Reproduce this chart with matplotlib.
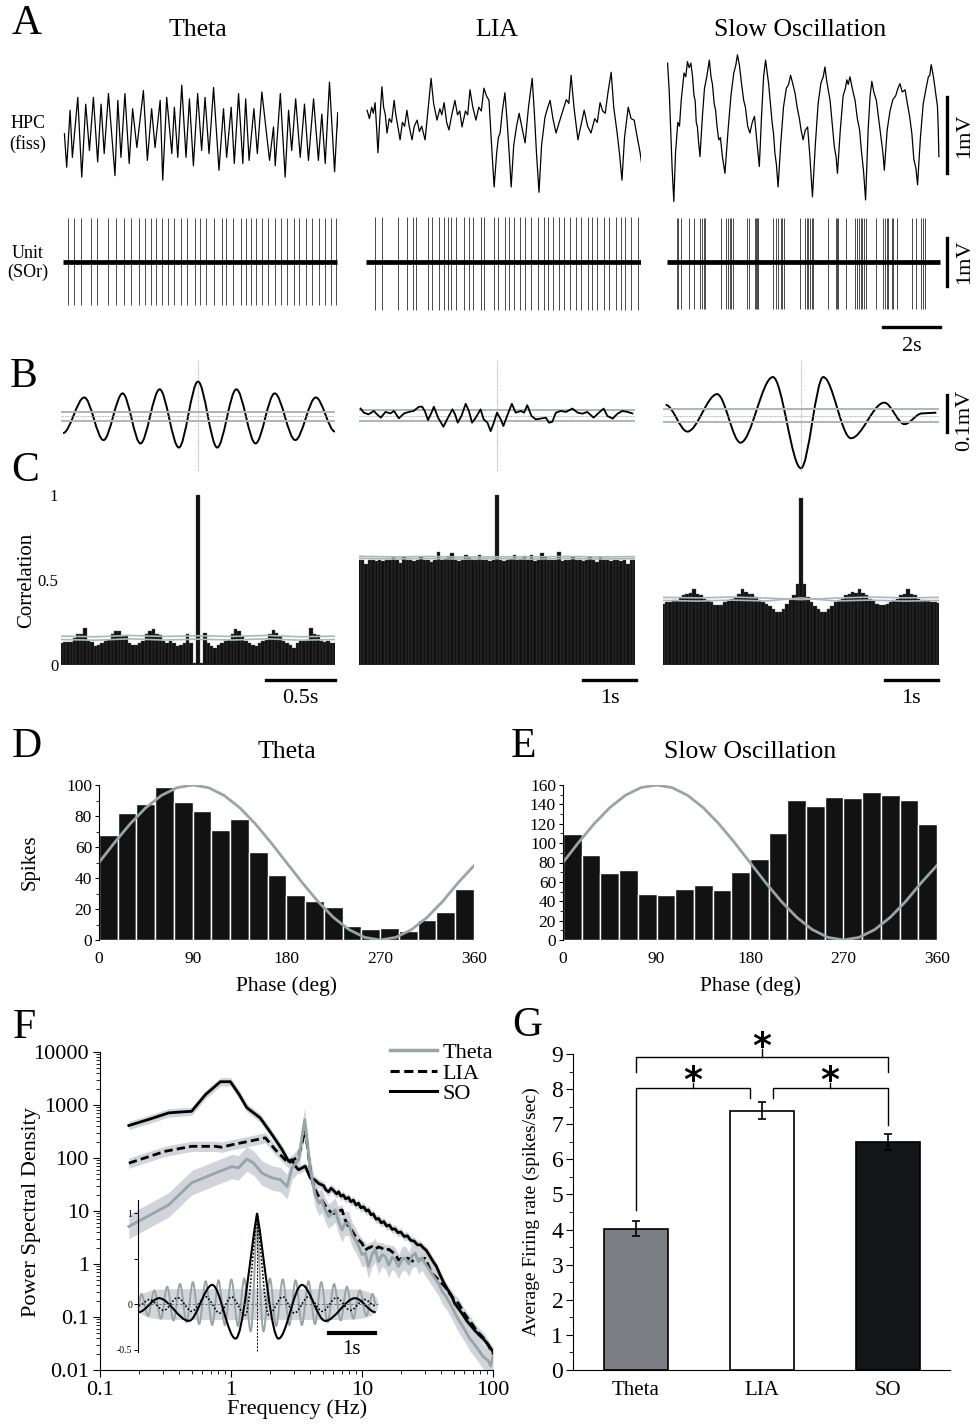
import matplotlib
matplotlib.use('Agg')
import numpy as np
import matplotlib.pyplot as plt
from matplotlib.path import Path
from matplotlib.patches import PathPatch
from matplotlib.lines import Line2D
from matplotlib.ticker import MultipleLocator, FuncFormatter, NullFormatter

plt.rcParams['font.family'] = ['Liberation Serif', 'DejaVu Serif']

W, H = 979, 1427

# ---------------- data ----------------
# A: raw HPC traces (s, mV), vertices
theta_hpc_t = [0.05, 0.13, 0.25, 0.33, 0.52, 0.66, 0.80, 0.93, 1.07, 1.22, 1.34, 1.45, 1.60, 1.83, 1.93,
               2.04, 2.18, 2.33, 2.45, 2.60, 2.83, 2.97, 3.12, 3.24, 3.42, 3.51, 3.65, 3.83, 3.92, 4.04,
               4.18, 4.33, 4.45, 4.59, 4.74, 4.88, 5.00, 5.14, 5.30, 5.49, 5.65, 5.76, 5.92, 6.03, 6.18,
               6.33, 6.43, 6.55, 6.72, 6.84, 7.00, 7.27, 7.41, 7.47, 7.65, 7.82, 7.94, 8.05, 8.19, 8.35,
               8.50, 8.64, 8.82, 8.99, 9.11, 9.23, 9.38, 9.56, 9.67, 9.70]
theta_hpc_v = [-0.05, -0.49, 0.26, -0.36, 0.43, -0.62, 0.34, -0.27, 0.43, -0.42, 0.34, -0.31, 0.48, -0.60, 0.39,
               -0.36, 0.48, -0.44, 0.28, -0.23, 0.52, -0.40, 0.28, -0.23, 0.39, -0.66, 0.43, -0.31, 0.30, -0.36,
               0.59, -0.36, 0.41, -0.47, 0.48, -0.27, 0.43, -0.31, 0.56, -0.53, 0.28, -0.36, 0.30, -0.44, 0.48,
               -0.44, 0.41, -0.40, 0.28, -0.31, 0.50, -0.40, 0.04, -0.47, 0.48, -0.62, 0.26, -0.27, 0.41, -0.36,
               0.34, -0.40, 0.41, -0.40, 0.21, -0.44, 0.63, -0.55, 0.23, 0.0]
lia_hpc_t = [0.04, 0.12, 0.20, 0.26, 0.32, 0.37, 0.42, 0.48, 0.56, 0.62, 0.68, 0.74, 0.82, 0.90, 0.99,
             1.05, 1.12, 1.20, 1.28, 1.36, 1.44, 1.52, 1.62, 1.70, 1.80, 1.88, 1.96, 2.08, 2.18, 2.29,
             2.38, 2.50, 2.60, 2.67, 2.75, 2.84, 2.92, 3.02, 3.13, 3.22, 3.30, 3.38, 3.50, 3.58, 3.66,
             3.76, 3.87, 3.97, 4.06, 4.15, 4.24, 4.33, 4.42, 4.51, 4.60, 4.66, 4.72, 4.80, 4.89, 4.97,
             5.04, 5.11, 5.20, 5.30, 5.39, 5.48, 5.60, 5.72, 5.85, 5.93, 6.00, 6.09, 6.18, 6.30, 6.40,
             6.48, 6.58, 6.69, 6.80, 6.90, 7.05, 7.14, 7.22, 7.32, 7.46, 7.56, 7.68, 7.80, 7.92, 8.05,
             8.14, 8.24, 8.33, 8.42, 8.52, 8.63, 8.72, 8.84, 8.92, 9.01, 9.10, 9.23, 9.33, 9.44, 9.55,
             9.65, 9.72]
lia_hpc_v = [0.26, 0.15, 0.30, 0.22, 0.36, 0.05, -0.30, 0.10, 0.57, 0.30, 0.20, -0.04, 0.15, 0.10, 0.39,
             0.20, 0.05, -0.13, 0.10, 0.05, 0.26, 0.05, -0.13, 0.05, 0.13, -0.02, 0.05, -0.13, 0.25, 0.68,
             0.35, 0.13, 0.28, 0.20, 0.36, 0.10, 0.0, 0.20, 0.39, 0.20, 0.25, 0.04, 0.25, 0.20, 0.53,
             0.30, 0.13, 0.30, 0.25, 0.55, 0.45, 0.39, -0.20, -0.75, -0.30, -0.10, -0.04, 0.25, 0.49, 0.10,
             -0.30, -0.75, -0.20, 0.05, 0.22, 0.05, -0.17, 0.30, 0.68, 0.20, -0.30, -0.82, -0.20, 0.17, 0.30,
             0.39, 0.15, -0.04, 0.10, 0.22, 0.40, 0.35, 0.72, 0.30, -0.13, 0.05, 0.26, 0.05, -0.04, 0.15,
             0.10, 0.36, 0.25, 0.22, 0.50, 0.76, 0.30, -0.04, -0.30, -0.66, -0.10, 0.30, 0.15, 0.13, -0.10,
             -0.30, -0.49]
so_hpc_t = [0.02, 0.08, 0.12, 0.18, 0.24, 0.30, 0.38, 0.44, 0.50, 0.60, 0.66, 0.72, 0.78, 0.84, 0.90,
            0.95, 0.99, 1.03, 1.07, 1.11, 1.16, 1.25, 1.32, 1.40, 1.49, 1.55, 1.60, 1.66, 1.71, 1.76,
            1.82, 1.88, 1.95, 2.04, 2.15, 2.25, 2.35, 2.42, 2.48, 2.55, 2.62, 2.70, 2.76, 2.84, 2.92,
            3.00, 3.08, 3.15, 3.25, 3.33, 3.40, 3.47, 3.53, 3.58, 3.63, 3.70, 3.75, 3.80, 3.85, 3.91,
            4.00, 4.10, 4.20, 4.28, 4.35, 4.42, 4.51, 4.58, 4.66, 4.72, 4.79, 4.87, 4.95, 5.03, 5.12,
            5.22, 5.32, 5.42, 5.50, 5.56, 5.62, 5.68, 5.74, 5.80, 5.89, 5.95, 6.00, 6.10, 6.20, 6.28,
            6.33, 6.38, 6.44, 6.52, 6.62, 6.70, 6.78, 6.84, 6.92, 6.99, 7.08, 7.15, 7.21, 7.28, 7.37,
            7.45, 7.54, 7.60, 7.65, 7.75, 7.85, 7.95, 8.05, 8.13, 8.20, 8.28, 8.38, 8.46, 8.54, 8.62,
            8.69, 8.76, 8.82, 8.92, 9.02, 9.12, 9.20, 9.25, 9.30, 9.38, 9.45, 9.52, 9.55, 9.57]
so_hpc_v = [0.88, 0.50, 0.10, -0.50, -0.94, -0.30, 0.10, 0.05, 0.39, 0.75, 0.70, 0.90, 0.82, 0.88, 0.70,
            0.45, 0.39, 0.10, 0.04, -0.15, -0.35, 0.20, 0.55, 0.70, 0.92, 0.70, 0.60, 0.35, 0.26, 0.05,
            -0.13, -0.10, -0.35, -0.57, 0.0, 0.45, 0.75, 0.85, 0.99, 0.85, 0.62, 0.39, 0.30, 0.05, -0.04,
            0.10, 0.18, -0.10, -0.48, 0.20, 0.70, 0.92, 0.75, 0.60, 0.39, 0.10, -0.05, -0.31, -0.45, -0.75,
            -0.20, 0.30, 0.55, 0.60, 0.72, 0.62, 0.48, 0.30, 0.15, 0.0, -0.13, 0.0, 0.04, -0.35, -0.88,
            -0.20, 0.35, 0.62, 0.70, 0.83, 0.65, 0.52, 0.39, 0.15, -0.22, -0.35, -0.57, 0.0, 0.45, 0.55,
            0.66, 0.60, 0.70, 0.55, 0.39, 0.15, 0.0, -0.26, -0.55, -0.92, 0.0, 0.45, 0.64, 0.50, 0.39,
            0.15, -0.13, -0.30, -0.53, 0.0, 0.25, 0.40, 0.45, 0.55, 0.61, 0.50, 0.53, 0.35, 0.18, -0.05,
            -0.39, -0.50, -0.72, -0.10, 0.35, 0.55, 0.70, 0.72, 0.86, 0.70, 0.50, 0.31, 0.0, -0.35]

# A: unit spike times (s)
theta_spikes = [0.16, 0.38, 0.64, 0.97, 1.19, 1.57, 1.85, 2.14, 2.40, 2.67, 2.89, 3.11, 3.29, 3.47, 3.68,
                3.90, 4.17, 4.38, 4.65, 4.82, 5.05, 5.31, 5.59, 5.75, 5.97, 6.25, 6.43, 6.63, 6.81, 7.02,
                7.20, 7.46, 7.68, 7.90, 8.12, 8.30, 8.56, 8.78, 9.00, 9.22, 9.44, 9.62]
lia_spikes = [0.32, 0.58, 1.13, 1.46, 1.64, 1.75, 2.19, 2.34, 2.57, 2.74, 2.87, 3.00, 3.17, 3.44, 3.62,
              3.77, 4.05, 4.16, 4.50, 4.65, 4.89, 5.04, 5.20, 5.42, 5.60, 5.80, 6.04, 6.26, 6.41, 6.58,
              6.80, 6.97, 7.18, 7.40, 7.57, 7.80, 7.96, 8.13, 8.38, 8.56, 8.79, 8.97, 9.12, 9.33, 9.56]
so_spikes = [0.34, 0.40, 0.49, 0.77, 0.96, 1.16, 1.22, 1.31, 1.34, 1.90, 2.08, 2.16, 2.21, 2.25, 2.34,
             2.81, 2.89, 3.10, 3.13, 3.16, 3.19, 3.22, 3.74, 3.83, 3.92, 4.01, 4.06, 4.12, 4.68, 4.86,
             4.92, 4.98, 5.04, 5.09, 5.15, 5.68, 5.94, 5.99, 6.03, 6.29, 6.62, 6.68, 6.76, 6.83, 6.88,
             6.95, 7.00, 7.35, 7.62, 7.68, 7.74, 7.79, 7.91, 7.97, 8.09, 8.64, 8.76, 8.94, 9.02, 9.08]
unit_duration = [9.65, 9.68, 9.62]
spike_up = [0.96, 0.98, 0.96]
spike_down = [-0.93, -1.04, -1.02]

# B: spike-triggered LFP averages (s, mV)
theta_sta_t = [-0.985, -0.83, -0.69, -0.55, -0.42, -0.28, -0.14, 0.0, 0.14, 0.28, 0.42, 0.56, 0.71, 0.86, 1.0]
theta_sta_v = [-0.046, 0.050, -0.065, 0.061, -0.074, 0.072, -0.085, 0.093, -0.085, 0.072, -0.074, 0.061,
               -0.065, 0.050, -0.042]
lia_sta_t = [-2.57, -2.51, -2.42, -2.32, -2.26, -2.19, -2.10, -2.01, -1.94, -1.85, -1.75, -1.66, -1.57,
             -1.47, -1.41, -1.36, -1.30, -1.24, -1.19, -1.11, -1.01, -0.94, -0.84, -0.79, -0.74, -0.67,
             -0.59, -0.53, -0.47, -0.40, -0.31, -0.25, -0.18, -0.12, -0.06, 0.0, 0.07, 0.12, 0.19, 0.28,
             0.35, 0.45, 0.51, 0.57, 0.65, 0.73, 0.82, 0.92, 0.98, 1.04, 1.11, 1.20, 1.30, 1.42, 1.52,
             1.61, 1.70, 1.82, 1.92, 2.01, 2.08, 2.18, 2.27, 2.36, 2.46, 2.55]
lia_sta_v = [0.020, 0.009, 0.0045, 0.0135, 0.0045, -0.0045, 0.011, 0.007, 0.0135, -0.0063, 0.007, 0.011,
             0.0135, 0.025, 0.025, 0.0135, -0.011, 0.007, 0.025, -0.0045, -0.029, -0.009, 0.018, 0.0045,
             -0.018, 0.0, 0.033, 0.0135, -0.018, -0.0045, 0.018, -0.009, -0.018, -0.041, -0.018, 0.009,
             -0.009, -0.027, 0.0, 0.033, 0.009, 0.0135, 0.009, 0.029, 0.0, -0.009, -0.007, -0.0045,
             -0.018, -0.016, 0.009, 0.0135, 0.011, 0.020, 0.009, 0.0063, 0.011, -0.0045, 0.009, 0.020,
             0.0, -0.007, 0.0063, 0.0135, 0.011, 0.007]
so_sta_t = [-2.55, -2.14, -1.58, -1.14, -0.53, 0.0, 0.42, 0.94, 1.57, 1.95, 2.28, 2.55]
so_sta_v = [0.030, -0.042, 0.059, -0.072, 0.105, -0.141, 0.105, -0.060, 0.036, -0.022, 0.007, 0.009]
sta_bounds = [(0.0116, -0.0127), (0.016, -0.013), (0.018, -0.017)]

# C: cross-correlograms (81 bins each)
theta_ccg_t = np.linspace(-1.0, 1.0, 81)
theta_ccg = [0.13, 0.135, 0.135, 0.135, 0.16, 0.18, 0.18, 0.22, 0.14, 0.135,
             0.11, 0.12, 0.13, 0.14, 0.15, 0.18, 0.20, 0.20, 0.17, 0.175,
             0.13, 0.12, 0.12, 0.13, 0.14, 0.18, 0.20, 0.21, 0.18, 0.175,
             0.14, 0.13, 0.14, 0.13, 0.11, 0.12, 0.13, 0.18, 0.13, 0.01,
             1.0,
             0.01, 0.19, 0.13, 0.11, 0.10, 0.12, 0.13, 0.14, 0.15, 0.18,
             0.21, 0.20, 0.17, 0.14, 0.13, 0.12, 0.11, 0.13, 0.14, 0.15,
             0.18, 0.205, 0.19, 0.17, 0.14, 0.13, 0.12, 0.10, 0.13, 0.14,
             0.14, 0.15, 0.22, 0.18, 0.175, 0.14, 0.135, 0.14, 0.13, 0.13]
lia_ccg_t = np.linspace(-2.6, 2.6, 81)
lia_ccg = [0.62, 0.62, 0.595, 0.62, 0.62, 0.615, 0.62, 0.61, 0.62, 0.62,
           0.635, 0.62, 0.60, 0.635, 0.62, 0.62, 0.615, 0.62, 0.635, 0.62,
           0.62, 0.605, 0.62, 0.665, 0.62, 0.625, 0.64, 0.66, 0.62, 0.61,
           0.62, 0.65, 0.635, 0.62, 0.62, 0.65, 0.62, 0.62, 0.61, 0.62,
           1.0,
           0.62, 0.61, 0.62, 0.625, 0.65, 0.62, 0.625, 0.64, 0.62, 0.65,
           0.61, 0.62, 0.66, 0.635, 0.62, 0.62, 0.62, 0.665, 0.61, 0.62,
           0.62, 0.635, 0.62, 0.62, 0.615, 0.62, 0.635, 0.62, 0.605, 0.635,
           0.62, 0.62, 0.61, 0.62, 0.62, 0.615, 0.62, 0.595, 0.62, 0.62]
so_ccg_t = np.linspace(-2.6, 2.6, 81)
so_ccg = [0.36, 0.37, 0.37, 0.38, 0.38, 0.40, 0.41, 0.42, 0.425, 0.445,
          0.42, 0.41, 0.39, 0.38, 0.37, 0.355, 0.355, 0.355, 0.37, 0.38,
          0.39, 0.40, 0.42, 0.445, 0.43, 0.42, 0.42, 0.40, 0.38, 0.37,
          0.36, 0.345, 0.33, 0.31, 0.31, 0.33, 0.36, 0.38, 0.41, 0.475,
          0.985,
          0.475, 0.40, 0.37, 0.35, 0.33, 0.31, 0.31, 0.33, 0.35, 0.37,
          0.38, 0.39, 0.41, 0.42, 0.43, 0.425, 0.445, 0.425, 0.41, 0.39,
          0.375, 0.36, 0.355, 0.355, 0.36, 0.37, 0.38, 0.39, 0.41, 0.42,
          0.445, 0.42, 0.41, 0.39, 0.38, 0.38, 0.375, 0.37, 0.37, 0.365]
ci_theta_t = [-1.0, -0.75, -0.5, -0.25, 0.0, 0.25, 0.5, 0.75, 1.0]
ci_theta_lo = [0.150, 0.146, 0.154, 0.147, 0.152, 0.147, 0.154, 0.146, 0.150]
ci_theta_hi = [0.170, 0.166, 0.174, 0.168, 0.172, 0.168, 0.174, 0.166, 0.170]
ci_wide_t = [-2.6, -1.95, -1.3, -0.65, 0.0, 0.65, 1.3, 1.95, 2.6]
ci_lia_lo = [0.628, 0.624, 0.627, 0.623, 0.626, 0.623, 0.627, 0.624, 0.626]
ci_lia_hi = [0.640, 0.636, 0.639, 0.635, 0.637, 0.636, 0.639, 0.636, 0.638]
ci_so_lo = [0.380, 0.376, 0.382, 0.377, 0.395, 0.377, 0.382, 0.376, 0.380]
ci_so_hi = [0.398, 0.395, 0.400, 0.394, 0.385, 0.394, 0.400, 0.395, 0.398]

# D/E: phase histograms
phase_bins = [9, 27, 45, 63, 81, 99, 117, 135, 153, 171, 189, 207, 225, 243, 261, 279, 297, 315, 333, 351]
theta_phase = [68, 82, 88, 99, 89, 83, 71, 78, 57, 42, 29, 25, 21, 9, 7, 8, 6, 13, 18, 33]
so_phase = [109, 88, 69, 72, 48, 46, 53, 57, 52, 70, 84, 110, 145, 138, 148, 147, 153, 150, 145, 120]
ref_phase = [0, 15, 30, 45, 60, 75, 90, 105, 120, 135, 150, 165, 180, 195, 210, 225, 240, 255, 270,
             285, 300, 315, 330, 345, 360]
theta_ref = [50, 62.9, 75, 85.4, 93.3, 98.3, 100, 98.3, 93.3, 85.4, 75, 62.9, 50, 37.1, 25, 14.6, 6.7,
             1.7, 0, 1.7, 6.7, 14.6, 25, 37.1, 48]
so_ref = [80, 100.7, 120, 136.6, 149.3, 157.3, 160, 157.3, 149.3, 136.6, 120, 100.7, 80, 59.3, 40, 23.4,
          10.7, 2.7, 0, 2.7, 10.7, 23.4, 40, 59.3, 77]

# F: power spectra (Hz, PSD)
so_psd_f = [0.166, 0.25, 0.334, 0.42, 0.50, 0.64, 0.83, 0.99, 1.15, 1.32, 1.5, 1.67, 2.06, 2.45, 2.75,
            2.92, 3.1, 3.28, 3.69, 4.03, 4.4, 4.67, 5.1, 5.3, 5.56, 5.8, 6.1, 6.4, 6.63, 6.9, 7.2, 7.5,
            7.9, 8.2, 8.6, 9.0, 9.41, 9.8, 10.3, 10.8, 11.2, 11.7, 12.2, 12.8, 13.4, 14.0, 14.7, 15.4,
            16.2, 17.0, 17.9, 18.8, 19.8, 21.0, 22.2, 23.5, 25.0, 26.5, 28.0, 29.5, 31.0, 33.0, 35.0,
            37.0, 39.5, 42.0, 45.0, 48.0, 51.0, 55.0, 59.0, 63.0, 68.0, 73.0, 79.0, 85.0, 92.0, 100.0]
so_psd = [410, 560, 710, 740, 760, 1580, 2750, 2750, 1600, 890, 700, 570, 275, 145, 87,
          93, 70, 60, 70, 42, 38, 33, 30, 25, 23, 27, 24, 21, 23, 19, 20, 17,
          18, 15, 16, 13, 14, 11.5, 12, 10, 10.5, 8.5, 8.8, 7.0, 7.2, 6.0, 6.3, 5.2,
          5.4, 4.5, 4.6, 3.9, 4.0, 3.3, 3.4, 2.8, 2.7, 2.3, 2.3, 2.0, 1.8, 1.4, 1.1,
          0.9, 0.62, 0.45, 0.33, 0.26, 0.18, 0.14, 0.11, 0.085, 0.068, 0.055, 0.045, 0.038, 0.03, 0.022]
lia_psd_f = [0.166, 0.315, 0.50, 0.76, 0.85, 1.02, 1.36, 1.83, 2.18, 2.75, 3.28, 3.69, 4.03, 4.27, 4.6,
             4.95, 5.3, 5.56, 5.9, 6.25, 6.6, 7.04, 7.4, 7.9, 8.4, 8.9, 9.5, 10.0, 10.6, 11.2, 11.9,
             12.6, 13.4, 14.2, 15.0, 16.0, 16.9, 18.0, 19.0, 20.5, 22.6, 24.0, 25.5, 27.5, 30.3, 32.0,
             34.1, 37.0, 40.0, 43.1, 47.0, 50.0, 54.5, 60.0, 65.0, 68.9, 75.0, 81.0, 87.0, 93.0, 100.0]
lia_psd = [80, 134, 166, 166, 160, 178, 206, 240, 143, 80, 107, 345, 60, 29, 20,
           16, 12, 10.5, 9, 9.1, 10, 10.5, 7, 5.1, 4.2, 3.3, 2.8, 2.46, 1.84, 2.0, 2.13,
           1.9, 2.1, 1.98, 1.8, 1.9, 1.71, 1.5, 1.19, 1.3, 1.28, 1.15, 1.1, 1.2, 1.28, 0.95,
           0.67, 0.55, 0.45, 0.37, 0.27, 0.22, 0.18, 0.12, 0.09, 0.075, 0.055, 0.045, 0.037, 0.028, 0.02]
theta_psd_f = [0.166, 0.334, 0.50, 0.76, 1.02, 1.14, 1.32, 1.49, 1.72, 2.06, 2.38, 2.68, 2.92, 3.28, 3.65,
               4.03, 4.4, 4.7, 4.95, 5.2, 5.56, 5.9, 6.25, 6.6, 7.04, 7.4, 7.9, 8.4, 8.9, 9.4, 10.0,
               10.6, 11.2, 11.9, 12.6, 13.4, 14.2, 15.1, 16.0, 17.0, 17.9, 19.0, 20.2, 21.4, 22.8, 24.0,
               25.5, 27.0, 28.7, 30.3, 32.5, 35.0, 38.4, 41.0, 44.0, 48.5, 52.0, 56.0, 61.3, 66.0, 71.0,
               77.5, 84.0, 92.0, 96.0, 100.0]
theta_psd = [5.1, 13, 34, 52, 69, 65, 96, 80, 52, 42, 39, 29, 65, 93, 530,
             60, 20, 14, 16, 11, 7.9, 9, 10.5, 6.5, 4.4, 5.8, 5.9, 3.6, 2.85, 2.2, 1.5,
             1.6, 0.9, 1.5, 1.84, 1.1, 1.5, 1.38, 0.95, 1.35, 1.19, 0.9, 1.25, 1.28, 1.0, 1.4,
             1.6, 1.1, 1.3, 1.03, 0.8, 0.6, 0.43, 0.3, 0.24, 0.155, 0.11, 0.08, 0.056, 0.04, 0.032,
             0.024, 0.018, 0.015, 0.012, 0.018]
psd_spread = {'theta': 1.7, 'lia': 1.25, 'so': 1.2}

# F inset: autocorrelations (s, r)
theta_acf_t = [-2.54, -2.475, -2.34, -2.2, -2.06, -1.925, -1.79, -1.65, -1.51, -1.375, -1.24, -1.10, -0.96,
               -0.825, -0.69, -0.55, -0.41, -0.275, -0.137, 0.0, 0.137, 0.275, 0.41, 0.55, 0.69, 0.825,
               0.96, 1.10, 1.24, 1.375, 1.51, 1.65, 1.79, 1.925, 2.06, 2.2, 2.34, 2.475, 2.54]
theta_acf_v = [0.0, 0.11, -0.13, 0.15, -0.16, 0.19, -0.18, 0.22, -0.20, 0.24, -0.22, 0.25, -0.23,
               0.26, -0.23, 0.27, -0.24, 0.28, -0.30, 1.0, -0.30, 0.28, -0.24, 0.27, -0.23, 0.26,
               -0.23, 0.25, -0.22, 0.24, -0.20, 0.22, -0.18, 0.19, -0.16, 0.15, -0.13, 0.11, 0.0]
lia_acf_t = [-2.54, -2.3, -2.0, -1.7, -1.4, -1.1, -0.8, -0.55, -0.25, 0.0, 0.25, 0.55, 0.8, 1.1, 1.4,
             1.7, 2.0, 2.3, 2.54]
lia_acf_v = [-0.02, 0.05, -0.07, 0.07, -0.08, 0.08, -0.1, 0.08, -0.12, 1.0, -0.12, 0.08, -0.1, 0.08,
             -0.08, 0.07, -0.07, 0.05, -0.02]
so_acf_t = [-2.54, -2.1, -1.46, -0.96, -0.46, 0.0, 0.46, 0.96, 1.46, 2.1, 2.54]
so_acf_v = [-0.09, 0.064, -0.185, 0.21, -0.38, 1.0, -0.38, 0.21, -0.185, 0.064, -0.09]
acf_band_t = [-2.6, -2.55, -2.45, -2.3, -2.1, -1.8, 1.8, 2.1, 2.3, 2.45, 2.55, 2.6]
acf_band_h = [0.0, 0.08, 0.12, 0.15, 0.165, 0.17, 0.17, 0.165, 0.15, 0.12, 0.08, 0.0]

# G: firing rates
rate_names = ['Theta', 'LIA', 'SO']
rate_mean = [4.03, 7.38, 6.50]
rate_sem = [0.21, 0.24, 0.23]

GRAY = '#97a5a5'
CI = '#a9b8b8'
BAND = '#c9cdd5'
BAR = '#121212'

fig = plt.figure(figsize=(W / 100, H / 100), dpi=100)


def add_ax(l, t, r, b):
    ax = fig.add_axes([l / W, 1 - b / H, (r - l) / W, (b - t) / H])
    ax.patch.set_alpha(0)
    return ax


def ftext(x, y, s, **kw):
    kw.setdefault('ha', 'center')
    kw.setdefault('va', 'center')
    fig.text(x / W, 1 - y / H, s, **kw)


def smooth_curve(ts, vs, cusps=()):
    """Bezier path through extrema (flat tangents), straight tangents at cusps."""
    verts = [(ts[0], vs[0])]
    codes = [Path.MOVETO]
    for i in range(len(ts) - 1):
        t0, v0, t1, v1 = ts[i], vs[i], ts[i + 1], vs[i + 1]
        d = (t1 - t0) / 3.0
        s = (v1 - v0) / (t1 - t0)
        m0 = s if i in cusps else 0.0
        m1 = s if (i + 1) in cusps else 0.0
        verts += [(t0 + d, v0 + m0 * d), (t1 - d, v1 - m1 * d), (t1, v1)]
        codes += [Path.CURVE4] * 3
    return Path(verts, codes)


# ---------------- panel A ----------------
hpc = [(theta_hpc_t, theta_hpc_v), (lia_hpc_t, lia_hpc_v), (so_hpc_t, so_hpc_v)]
spikes = [theta_spikes, lia_spikes, so_spikes]
for k, left in enumerate([63, 366, 667]):
    ax = add_ax(left, 50, left + 275, 210)
    ax.plot(hpc[k][0], hpc[k][1], color='k', lw=0.9)
    ax.set_xlim(0, 9.68)
    ax.set_ylim(-1.053, 1.053)
    ax.axis('off')
    axu = add_ax(left, 210, left + 275, 315)
    axu.vlines(spikes[k], spike_down[k], spike_up[k], color='#4a4a4a', lw=0.7)
    axu.plot([0, unit_duration[k]], [0, 0], color='k', lw=3.4, solid_capstyle='butt')
    axu.set_xlim(0, 9.68)
    axu.set_ylim(-1.152, 1.13)
    axu.axis('off')
    if k == 2:
        ax.plot([9.86, 9.86], [0.434, -0.566], color='k', lw=2.4, clip_on=False)
        ax.text(10.49, -0.07, '1mV', rotation=90, fontsize=16, ha='center', va='center')
        axu.plot([9.86, 9.86], [0.52, -0.52], color='k', lw=2.4, clip_on=False)
        axu.text(10.49, 0.0, '1mV', rotation=90, fontsize=16, ha='center', va='center')
        axu.plot([7.6, 9.6], [-1.41, -1.41], color='k', lw=2.4, clip_on=False)
        axu.text(8.63, -1.83, '2s', fontsize=16, ha='center', va='center')

ftext(27, 24, 'A', fontsize=30)
ftext(198, 30, 'Theta', fontsize=18.5)
ftext(497, 30, 'LIA', fontsize=18.5)
ftext(800, 30, 'Slow Oscillation', fontsize=18.5)
ftext(28, 134, 'HPC\n(fiss)', fontsize=13, linespacing=1.15)
ftext(28, 263, 'Unit\n(SOr)', fontsize=13, linespacing=1.15)

# ---------------- panel B ----------------
b_axes = [((61, 335), 1.0), ((359, 635), 2.6), ((663, 939), 2.6)]
for k, ((l, r), half) in enumerate(b_axes):
    ax = add_ax(l, 360, r, 472)
    ax.set_xlim(-half, half)
    ax.set_ylim(-0.151, 0.151)
    ax.axis('off')
    ax.axvline(0, color='#9a9a9a', lw=0.6, ls=(0, (1, 1)))
    ax.axhline(0, color='#9a9a9a', lw=0.6, ls=(0, (1, 1)))
    for lvl in sta_bounds[k]:
        ax.axhline(lvl, color=CI, lw=1.4)
    if k == 0:
        ax.add_patch(PathPatch(smooth_curve(theta_sta_t, theta_sta_v), fill=False, color='k', lw=1.4))
    elif k == 1:
        ax.plot(lia_sta_t, lia_sta_v, color='k', lw=1.3)
    else:
        ax.add_patch(PathPatch(smooth_curve(so_sta_t, so_sta_v), fill=False, color='k', lw=1.4))
        ax.plot([2.75, 2.75], [0.057, -0.043], color='k', lw=2.4, clip_on=False)
        ax.text(3.09, -0.011, '0.1mV', rotation=90, fontsize=16, ha='center', va='center')
ftext(24, 377, 'B', fontsize=30)

# ---------------- panel C ----------------
c_data = [(theta_ccg_t, theta_ccg, ci_theta_t, ci_theta_lo, ci_theta_hi, (61, 335), 1.0, (0.5, 1.0), '0.5s'),
          (lia_ccg_t, lia_ccg, ci_wide_t, ci_lia_lo, ci_lia_hi, (359, 635), 2.6, (1.62, 2.62), '1s'),
          (so_ccg_t, so_ccg, ci_wide_t, ci_so_lo, ci_so_hi, (663, 939), 2.6, (1.58, 2.58), '1s')]
for k, (ct, cv, cit, clo, chi, (l, r), half, sb, sbl) in enumerate(c_data):
    ax = add_ax(l, 490, r, 665)
    ax.bar(ct, cv, width=ct[1] - ct[0], color=BAR, edgecolor='#4d4d4d', linewidth=0.25)
    ax.plot(cit, clo, color=CI, lw=1.2)
    ax.plot(cit, chi, color=CI, lw=1.2)
    ax.set_xlim(-half, half)
    ax.set_ylim(0, 1.03)
    for s in ax.spines.values():
        s.set_visible(False)
    ax.set_xticks([])
    if k == 0:
        ax.set_yticks([0, 0.5, 1])
        ax.set_yticklabels(['0', '0.5', '1'])
        ax.tick_params(axis='y', length=0, pad=2, labelsize=12)
    else:
        ax.set_yticks([])
    ax.plot(list(sb), [-0.088, -0.088], color='k', lw=2.4, clip_on=False)
    ax.text((sb[0] + sb[1]) / 2, -0.2, sbl, fontsize=16, ha='center', va='center')
ftext(25, 471, 'C', fontsize=30)
ftext(27, 580, 'Correlation', fontsize=15, rotation=90)

# ---------------- panels D, E ----------------
de = [((99, 474), theta_phase, theta_ref, 100, 20, 'Theta', 287, 'D', 27),
      ((563, 937), so_phase, so_ref, 160, 20, 'Slow Oscillation', 750, 'E', 523)]
for (l, r), counts, ref, ymax, step, title, cx, letter, lx in de:
    ax = add_ax(l, 785, r, 940)
    ax.bar(phase_bins, counts, width=18, color=BAR, edgecolor='white', linewidth=1.0)
    ax.plot(ref_phase, ref, color=GRAY, lw=2.0)
    ax.set_xlim(0, 360)
    ax.set_ylim(0, ymax)
    ax.set_xticks([0, 90, 180, 270, 360])
    ax.yaxis.set_major_locator(MultipleLocator(step))
    ax.yaxis.set_minor_locator(MultipleLocator(step / 2))
    ax.tick_params(axis='x', length=0, pad=8, labelsize=12.5)
    ax.tick_params(axis='y', which='major', direction='out', length=3, pad=2, labelsize=12.5)
    ax.tick_params(axis='y', which='minor', direction='out', length=2)
    for s in ['top', 'right', 'bottom']:
        ax.spines[s].set_visible(False)
    ftext(cx, 752, title, fontsize=18.5)
    ftext(cx, 986, 'Phase (deg)', fontsize=15.5)
    ftext(lx, 747, letter, fontsize=30)
ftext(30, 862, 'Spikes', fontsize=15, rotation=90)

# ---------------- panel F ----------------
ax = add_ax(100, 1052, 493, 1370)
series = [(theta_psd_f, theta_psd, psd_spread['theta']),
          (lia_psd_f, lia_psd, psd_spread['lia']),
          (so_psd_f, so_psd, psd_spread['so'])]
for f, v, spread in series:
    v = np.array(v)
    ax.fill_between(f, v / spread, v * spread, color=BAND, lw=0, alpha=0.85)
ax.plot(so_psd_f, so_psd, color='k', lw=2.0)
ax.plot(lia_psd_f, lia_psd, color='k', lw=2.0, dashes=(3, 1.5))
ax.plot(theta_psd_f, theta_psd, color=GRAY, lw=2.0)
ax.set_xscale('log')
ax.set_yscale('log')
ax.set_xlim(0.1, 100)
ax.set_ylim(0.01, 10000)
fmt = FuncFormatter(lambda v, p: f'{v:g}')
ax.xaxis.set_major_formatter(fmt)
ax.yaxis.set_major_formatter(fmt)
ax.xaxis.set_minor_formatter(NullFormatter())
ax.yaxis.set_minor_formatter(NullFormatter())
ax.tick_params(which='major', direction='out', length=5, labelsize=16, pad=3)
ax.tick_params(which='minor', direction='out', length=3)
for s in ['top', 'right']:
    ax.spines[s].set_visible(False)
handles = [Line2D([], [], color=GRAY, lw=2.5),
           Line2D([], [], color='k', lw=2.2, dashes=(3, 1.5)),
           Line2D([], [], color='k', lw=2.2)]
ax.legend(handles, ['Theta', 'LIA', 'SO'], loc='upper right', bbox_to_anchor=(1.0, 1.03),
          frameon=False, fontsize=16, handlelength=2.1, handletextpad=0.25,
          labelspacing=0.0, borderaxespad=0, borderpad=0)
ftext(24, 1028, 'F', fontsize=30)
ftext(32, 1212, 'Power Spectral Density', fontsize=16, rotation=90)
ftext(297, 1409, 'Frequency (Hz)', fontsize=16)

# inset
axi = add_ax(138, 1200, 378, 1352)
bh = np.array(acf_band_h)
axi.fill_between(acf_band_t, -bh, bh, color='#d2d6db', lw=0)
axi.axhline(0, color='#666666', lw=0.6, ls=(0, (3, 2)))
axi.vlines(0, -0.52, 1.0, color='k', lw=0.7, linestyles=(0, (2, 1.5)))
axi.add_patch(PathPatch(smooth_curve(theta_acf_t, theta_acf_v, cusps=(19,)), fill=False, color=GRAY, lw=1.4))
axi.add_patch(PathPatch(smooth_curve(lia_acf_t, lia_acf_v, cusps=(9,)), fill=False, color='k', lw=1.2,
                        ls=(0, (1, 1.2))))
axi.add_patch(PathPatch(smooth_curve(so_acf_t, so_acf_v, cusps=(5,)), fill=False, color='k', lw=1.5))
axi.set_xlim(-2.55, 2.59)
axi.set_ylim(-0.527, 1.143)
axi.set_xticks([])
axi.set_yticks([-0.5, 0, 0.5, 1])
axi.set_yticklabels(['-0.5', '0', '', '1'])
axi.tick_params(axis='y', direction='out', length=3, width=0.7, labelsize=7, pad=1)
for s in ['top', 'right', 'bottom']:
    axi.spines[s].set_visible(False)
axi.spines['left'].set_linewidth(0.8)
axi.plot([1.53, 2.53], [-0.315, -0.315], color='k', lw=3)
axi.text(2.03, -0.5, '1s', fontsize=15, ha='center', va='center')

# ---------------- panel G ----------------
ax = add_ax(573, 1054, 950, 1370)
xpos = range(len(rate_names))
ax.bar(xpos, rate_mean, width=0.51, color=['#7b7f83', 'white', '#151617'], edgecolor='k', linewidth=1.2,
       yerr=rate_sem, capsize=3, error_kw=dict(lw=1.2, capthick=1.2))
ax.set_xlim(-0.5, 2.49)
ax.set_ylim(0, 9)
ax.set_xticks(list(xpos))
ax.set_xticklabels(rate_names)
ax.yaxis.set_major_locator(MultipleLocator(1))
ax.yaxis.set_minor_locator(MultipleLocator(0.5))
ax.tick_params(axis='x', length=0, pad=8, labelsize=15)
ax.tick_params(axis='y', which='major', direction='out', length=5, labelsize=17, pad=2)
ax.tick_params(axis='y', which='minor', direction='out', length=3)
for s in ['top', 'right']:
    ax.spines[s].set_visible(False)
brackets = [([0, 0, 0.905, 0.905], [4.56, 8.03, 8.03, 7.75], 0.45, 8.03, 8.17),
            ([1.09, 1.09, 2.0, 2.0], [7.75, 8.03, 8.03, 6.99], 1.54, 8.03, 8.17),
            ([0, 0, 2.0, 2.0], [8.49, 8.92, 8.92, 8.49], 1.0, 8.92, 9.14)]
for bx, by, tx, y0, y1 in brackets:
    ax.plot(bx, by, color='k', lw=1.0, clip_on=False)
    ax.plot([tx, tx], [y0, y1], color='k', lw=1.0, clip_on=False)
    ax.text(tx, y1 + 0.05, '*', fontsize=26, fontweight='bold', family='DejaVu Sans',
            ha='center', va='center', clip_on=False)
ftext(527, 1026, 'G', fontsize=30)
ftext(531, 1212, 'Average Firing rate (spikes/sec)', fontsize=14, rotation=90)

fig.savefig('out.png', dpi=100)
